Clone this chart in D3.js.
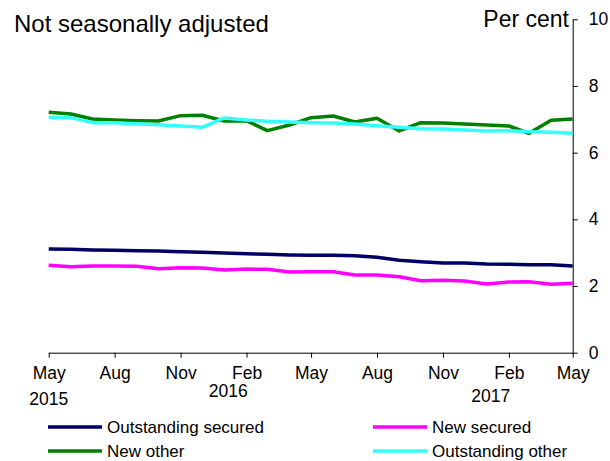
<!DOCTYPE html>
<html>
<head>
<meta charset="utf-8">
<script src="https://cdn.jsdelivr.net/npm/d3@7"></script>
<style>
  body { margin: 0; background: #fff; }
  svg text { font-family: Arial, "Liberation Sans", sans-serif; fill: #000; }
</style>
</head>
<body>
<div id="chart"></div>
<script>
// chart size
var svgWidth = 610;
var svgHeight = 461;

var margin = { top: 19.3, right: 37.3, bottom: 108.3, left: 48.7 };
var width = svgWidth - margin.left - margin.right;
var height = svgHeight - margin.top - margin.bottom;

// monthly observations, May 2015 to May 2017
var months = ["2015-05", "2015-06", "2015-07", "2015-08", "2015-09", "2015-10", "2015-11",
  "2015-12", "2016-01", "2016-02", "2016-03", "2016-04", "2016-05", "2016-06", "2016-07",
  "2016-08", "2016-09", "2016-10", "2016-11", "2016-12", "2017-01", "2017-02", "2017-03",
  "2017-04", "2017-05"];

var outstandingSecured = [3.11, 3.10, 3.08, 3.07, 3.06, 3.05, 3.03, 3.01, 2.99, 2.97, 2.95, 2.93,
  2.92, 2.92, 2.91, 2.86, 2.77, 2.73, 2.69, 2.69, 2.66, 2.65, 2.64, 2.64, 2.60];
var newSecured = [2.62, 2.58, 2.60, 2.60, 2.59, 2.52, 2.55, 2.54, 2.48, 2.51, 2.50, 2.42,
  2.43, 2.43, 2.33, 2.33, 2.28, 2.16, 2.17, 2.15, 2.06, 2.12, 2.13, 2.05, 2.08];
var newOther = [7.21, 7.16, 7.01, 6.98, 6.96, 6.95, 7.11, 7.12, 6.95, 6.96, 6.66, 6.83,
  7.05, 7.10, 6.92, 7.03, 6.65, 6.90, 6.89, 6.86, 6.83, 6.80, 6.58, 6.97, 7.01];
var outstandingOther = [7.06, 7.05, 6.90, 6.90, 6.87, 6.84, 6.80, 6.76, 7.04, 6.98, 6.94, 6.92,
  6.90, 6.89, 6.86, 6.81, 6.76, 6.72, 6.71, 6.68, 6.65, 6.66, 6.63, 6.61, 6.58];

var seriesNames = ["Outstanding secured", "New secured", "New other", "Outstanding other"];
var seriesColors = ["#000066", "#ff00ff", "#008000", "#33ffff"];
var seriesValues = [outstandingSecured, newSecured, newOther, outstandingOther];

// axis labels
var xTickMonths = ["2015-05", "2015-08", "2015-11", "2016-02", "2016-05", "2016-08",
  "2016-11", "2017-02", "2017-05"];
var yearLabels = ["2015", "2016", "2017"];
var yearLabelMonths = ["2015-05", "2016-01", "2017-01"];
var yTicks = [0, 2, 4, 6, 8, 10];

var parseMonth = d3.timeParse("%Y-%m");
var dates = months.map(parseMonth);

var svg = d3.select("#chart")
  .append("svg")
  .attr("width", svgWidth)
  .attr("height", svgHeight);

var chartGroup = svg.append("g")
  .attr("transform", `translate(${margin.left}, ${margin.top})`);

var xScale = d3.scaleTime()
  .domain(d3.extent(dates))
  .range([0, width]);

var yScale = d3.scaleLinear()
  .domain([0, 10])
  .range([height, 0]);

// x axis along the bottom
var bottomAxis = d3.axisBottom(xScale)
  .tickValues(xTickMonths.map(parseMonth))
  .tickFormat(d3.timeFormat("%b"))
  .tickSize(5)
  .tickSizeOuter(0)
  .tickPadding(9);

var xAxis = chartGroup.append("g")
  .attr("transform", `translate(0, ${height})`)
  .call(bottomAxis);
xAxis.selectAll("text").style("font-size", "17.5px");

// y axis on the right
var rightAxis = d3.axisRight(yScale)
  .tickValues(yTicks)
  .tickSize(5)
  .tickSizeOuter(0)
  .tickPadding(11);

var yAxis = chartGroup.append("g")
  .attr("transform", `translate(${width}, 0)`)
  .call(rightAxis);
yAxis.selectAll("text").style("font-size", "17.5px");

svg.selectAll(".domain, .tick line").attr("stroke", "#000").attr("stroke-width", 1);

// year labels under the month labels
var yearOffsets = [52, 44, 49];
chartGroup.selectAll(".yearLabel")
  .data(yearLabels)
  .enter()
  .append("text")
  .attr("class", "yearLabel")
  .attr("x", (d, i) => xScale(parseMonth(yearLabelMonths[i])) + (i === 0 ? 0 : 4))
  .attr("y", (d, i) => height + yearOffsets[i])
  .attr("text-anchor", "middle")
  .style("font-size", "17.5px")
  .text(d => d);

// lines
var line = d3.line()
  .x((d, i) => xScale(dates[i]))
  .y(d => yScale(d));

chartGroup.selectAll(".series")
  .data(seriesValues)
  .enter()
  .append("path")
  .attr("class", "series")
  .attr("fill", "none")
  .attr("stroke", (d, i) => seriesColors[i])
  .attr("stroke-width", 3.5)
  .attr("stroke-linejoin", "round")
  .attr("d", line);

// titles
svg.append("text")
  .attr("x", 14)
  .attr("y", 32)
  .style("font-size", "24px")
  .text("Not seasonally adjusted");

svg.append("text")
  .attr("x", 569)
  .attr("y", 27)
  .attr("text-anchor", "end")
  .style("font-size", "23px")
  .text("Per cent");

// legend, two columns
var legendX = [48, 373];
var legendY = [427, 451];
var legendGroup = svg.append("g");
var legendItems = legendGroup.selectAll(".legendItem")
  .data(seriesNames)
  .enter()
  .append("g")
  .attr("class", "legendItem")
  .attr("transform", (d, i) => `translate(${legendX[i % 2]}, ${legendY[Math.floor(i / 2)]})`);

legendItems.append("line")
  .attr("x1", 0)
  .attr("x2", 54)
  .attr("stroke", (d, i) => seriesColors[i])
  .attr("stroke-width", 3.5);

legendItems.append("text")
  .attr("x", 59)
  .attr("dy", "0.35em")
  .style("font-size", "17px")
  .text(d => d);
</script>
</body>
</html>
